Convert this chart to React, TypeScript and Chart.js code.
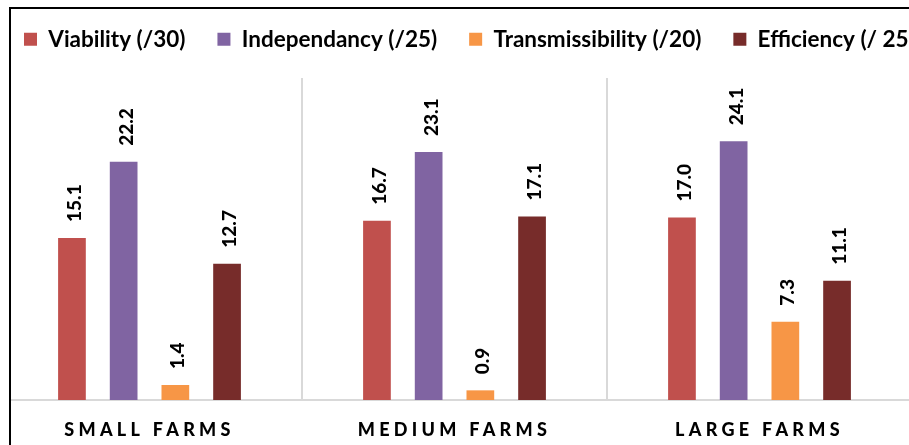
import React, { useEffect, useRef } from "react";
import { Chart, registerables } from "chart.js";

Chart.register(...registerables);

// ---------------- data ----------------
const categories = ["SMALL FARMS", "MEDIUM FARMS", "LARGE FARMS"];
const seriesNames = [
  "Viability (/30)",
  "Independancy (/25)",
  "Transmissibility (/20)",
  "Efficiency (/ 25)",
];
const viability = [15.1, 16.7, 17.0];
const independancy = [22.2, 23.1, 24.1];
const transmissibility = [1.4, 0.9, 7.3];
const efficiency = [12.7, 17.1, 11.1];
const seriesColors = ["#C0504D", "#8064A2", "#F79646", "#772C2A"];
const yMin = 0;
const yMax = 30;

// ---------------- layout ----------------
const CANVAS_W = 1000;
const CANVAS_H = 449;
const OFFSET_X = -8;
const OFFSET_Y = -4;
const LEGEND_FONT = 22.5;
const LEGEND_PAD = 32;
const CHART_TOP = 82; // canvas coords
const CHART_BOTTOM = 404;
const LEFT_W = 5;
const PLOT_W = 915;

const valueLabels = {
  id: "valueLabels",
  afterDatasetsDraw(chart: any) {
    const ctx = chart.ctx;
    ctx.save();
    ctx.font = "900 19px Lato";
    ctx.fillStyle = "#000000";
    ctx.textAlign = "left";
    ctx.textBaseline = "alphabetic";
    chart.data.datasets.forEach((ds: any, di: number) => {
      const meta = chart.getDatasetMeta(di);
      meta.data.forEach((bar: any, i: number) => {
        const v = ds.data[i] as number;
        ctx.save();
        ctx.translate(bar.x + 9, bar.y - 16);
        ctx.rotate(-Math.PI / 2);
        ctx.fillText(v.toFixed(1), 0, 0);
        ctx.restore();
      });
    });
    ctx.restore();
    // spaced capitals for the category axis labels (drawn next, z = 1)
    ctx.letterSpacing = "4.3px";
  },
  afterDraw(chart: any) {
    chart.ctx.letterSpacing = "0px";
  },
};

export default function App() {
  const ref = useRef<HTMLCanvasElement | null>(null);

  useEffect(() => {
    if (!ref.current) return;
    const seriesData = [viability, independancy, transmissibility, efficiency];
    const chart = new Chart(ref.current, {
      type: "bar",
      data: {
        labels: categories,
        datasets: seriesNames.map((name, i) => ({
          label: name,
          data: seriesData[i],
          backgroundColor: seriesColors[i],
          borderWidth: 0,
          barPercentage: 0.536,
          categoryPercentage: 0.678,
        })),
      },
      options: {
        responsive: false,
        maintainAspectRatio: false,
        animation: false,
        events: [],
        layout: { padding: 0 },
        plugins: {
          tooltip: { enabled: false },
          title: { display: false },
          legend: {
            display: true,
            position: "top",
            align: "start",
            labels: {
              boxWidth: 13,
              boxHeight: 13,
              padding: LEGEND_PAD,
              color: "#000000",
              font: { family: "Lato", size: LEGEND_FONT, weight: "bold" },
            },
          },
        },
        scales: {
          x: {
            type: "category",
            position: "bottom",
            offset: true,
            grid: {
              display: true,
              offset: true,
              color: "#D9D9D9",
              lineWidth: 2,
              drawTicks: false,
            },
            border: { display: true, color: "#D9D9D9", width: 2 },
            ticks: {
              z: 1,
              color: "#000000",
              padding: 19,
              maxRotation: 0,
              autoSkip: false,
              font: { family: "Lato", size: 18, weight: "900" },
            },
            afterFit: (s: any) => {
              s.height = CANVAS_H - CHART_BOTTOM;
            },
          },
          xT: {
            type: "category",
            position: "top",
            display: true,
            grid: { display: false, drawTicks: false },
            ticks: { display: false },
            border: { display: false },
            afterFit: (s: any) => {
              s.height = CHART_TOP - (LEGEND_FONT + LEGEND_PAD + 10);
            },
          },
          y: {
            type: "linear",
            position: "left",
            min: yMin,
            max: yMax,
            display: true,
            grid: { display: false, drawTicks: false },
            ticks: { display: false },
            border: { display: false },
            afterFit: (s: any) => {
              s.width = LEFT_W;
            },
          },
          yR: {
            type: "linear",
            position: "right",
            display: true,
            grid: { display: false, drawTicks: false },
            ticks: { display: false },
            border: { display: false },
            afterFit: (s: any) => {
              s.width = CANVAS_W - LEFT_W - PLOT_W;
            },
          },
        },
      },
      plugins: [valueLabels],
    } as any);
    return () => chart.destroy();
  }, []);

  return (
    <div
      style={{
        position: "fixed",
        left: 0,
        top: 0,
        width: 909,
        height: 445,
        overflow: "hidden",
        background: "#ffffff",
      }}
    >
      <canvas
        ref={ref}
        width={CANVAS_W}
        height={CANVAS_H}
        style={{
          position: "absolute",
          left: OFFSET_X,
          top: OFFSET_Y,
          width: CANVAS_W,
          height: CANVAS_H,
        }}
      />
      <div
        style={{
          position: "absolute",
          left: 0,
          top: 0,
          width: 9,
          height: 445,
          background: "#ffffff",
        }}
      />
      <div
        style={{
          position: "absolute",
          left: 9,
          top: 7,
          right: -20,
          bottom: -20,
          borderLeft: "2px solid #000",
          borderTop: "2px solid #000",
          pointerEvents: "none",
        }}
      />
    </div>
  );
}
